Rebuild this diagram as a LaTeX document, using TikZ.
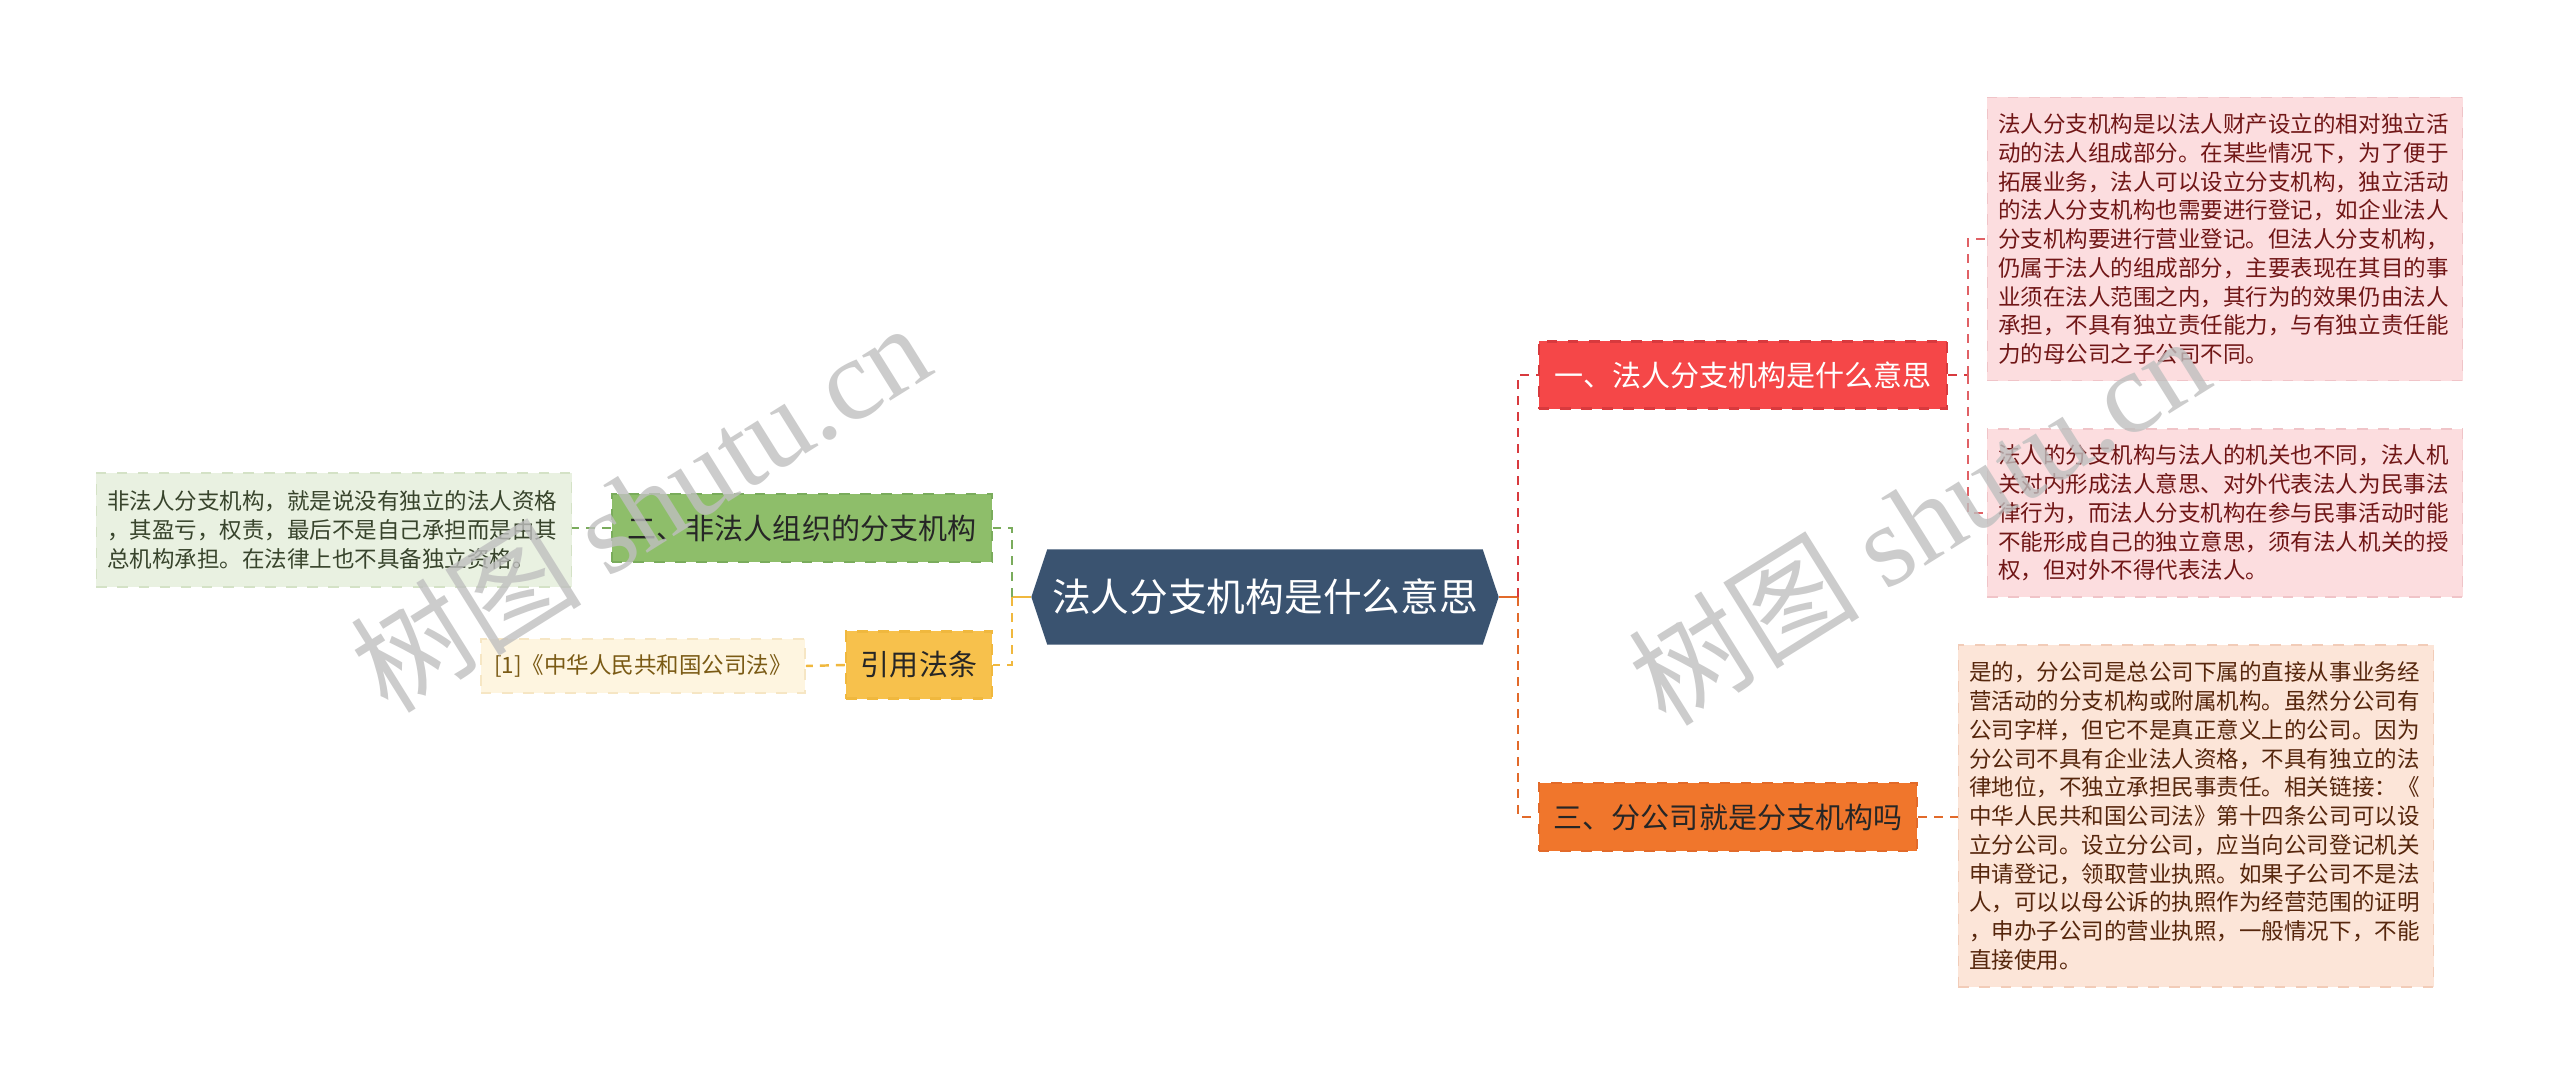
\documentclass[tikz,border=0pt]{standalone}
\usepackage{fontspec}
\setmainfont{Noto Sans CJK SC}
\newfontfamily\wmserif{Liberation Serif}
\usepackage{xcolor}
\usepackage{tikz}
\usetikzlibrary{positioning,shapes.symbols,calc}
\definecolor{rootblue}{RGB}{58,83,112}
\definecolor{redfill}{RGB}{245,71,72}
\definecolor{redline}{RGB}{216,58,62}
\definecolor{orgfill}{RGB}{240,118,44}
\definecolor{orgline}{RGB}{226,106,42}
\definecolor{grnfill}{RGB}{142,190,106}
\definecolor{grnline}{RGB}{122,172,92}
\definecolor{ylwfill}{RGB}{247,193,76}
\definecolor{ylwline}{RGB}{240,184,62}
\definecolor{pinkbg}{RGB}{252,221,223}
\definecolor{pinkln}{RGB}{240,196,200}
\definecolor{pinktxt}{RGB}{112,22,22}
\definecolor{peachbg}{RGB}{252,229,216}
\definecolor{peachln}{RGB}{242,204,184}
\definecolor{peachtxt}{RGB}{86,38,12}
\definecolor{sagebg}{RGB}{233,241,225}
\definecolor{sageln}{RGB}{212,226,198}
\definecolor{sagetxt}{RGB}{56,68,44}
\definecolor{creambg}{RGB}{254,245,224}
\definecolor{creamln}{RGB}{246,230,196}
\definecolor{creamtxt}{RGB}{122,90,20}
\newcommand{\rootfont}{\fontsize{11pt}{13pt}\selectfont}
\newcommand{\topicfont}{\fontsize{8.25pt}{10pt}\selectfont}
\newcommand{\detailfont}{\fontsize{6.4pt}{8.17pt}\selectfont}

\begin{document}
\begin{tikzpicture}[x=0.01cm,y=-0.01cm,
  root/.style={signal,signal to=east and west,signal pointer angle=143,fill=rootblue,
    text=white,font=\rootfont,minimum width=4.67cm,minimum height=0.95cm,inner xsep=0.05cm},
  topic/.style={dashed,line width=0.6pt,minimum height=0.67cm,font=\topicfont},
  detail/.style={dashed,line width=0.4pt,align=left,text width=4.53cm,inner xsep=0.11cm,
    inner ysep=0.12cm,font=\detailfont},
  link/.style={dashed,dash pattern=on 0.09cm off 0.07cm,line width=0.7pt},
  wmark/.style={text=black!25,opacity=0.8,font=\fontsize{33pt}{33pt}\selectfont,rotate=32}]
  \useasboundingbox (0,0) rectangle (2560,1085);

  \node[root] (root) at (1265,597) {法人分支机构是什么意思};

  \node[topic,fill=redfill,draw=redline,text=white,minimum width=4.08cm] (t1) at (1743,375) {一、法人分支机构是什么意思};
  \node[topic,fill=orgfill,draw=orgline,text=black!85,minimum width=3.78cm,minimum height=0.68cm] (t3) at (1728,817) {三、分公司就是分支机构吗};
  \node[topic,fill=grnfill,draw=grnline,text=black!85,minimum width=3.80cm,minimum height=0.68cm] (t2) at (802,528) {二、非法人组织的分支机构};
  \node[topic,fill=ylwfill,draw=ylwline,text=black!85,minimum width=1.46cm] (t4) at (919,665) {引用法条};

  \node[detail,fill=pinkbg,draw=pinkln,text=pinktxt,minimum height=2.83cm] (d1) at (2225,239) {法人分支机构是以法人财产设立的相对独立活\\动的法人组成部分。在某些情况下，为了便于\\拓展业务，法人可以设立分支机构，独立活动\\的法人分支机构也需要进行登记，如企业法人\\分支机构要进行营业登记。但法人分支机构，\\仍属于法人的组成部分，主要表现在其目的事\\业须在法人范围之内，其行为的效果仍由法人\\承担，不具有独立责任能力，与有独立责任能\\力的母公司之子公司不同。};
  \node[detail,fill=pinkbg,draw=pinkln,text=pinktxt,minimum height=1.68cm] (d2) at (2225,513) {法人的分支机构与法人的机关也不同，法人机\\关对内形成法人意思、对外代表法人为民事法\\律行为，而法人分支机构在参与民事活动时能\\不能形成自己的独立意思，须有法人机关的授\\权，但对外不得代表法人。};
  \node[detail,fill=peachbg,draw=peachln,text=peachtxt,minimum height=3.42cm] (d3) at (2196,816) {是的，分公司是总公司下属的直接从事业务经\\营活动的分支机构或附属机构。虽然分公司有\\公司字样，但它不是真正意义上的公司。因为\\分公司不具有企业法人资格，不具有独立的法\\律地位，不独立承担民事责任。相关链接：《\\中华人民共和国公司法》第十四条公司可以设\\立分公司。设立分公司，应当向公司登记机关\\申请登记，领取营业执照。如果子公司不是法\\人，可以以母公诉的执照作为经营范围的证明\\，申办子公司的营业执照，一般情况下，不能\\直接使用。};
  \node[detail,fill=sagebg,draw=sageln,text=sagetxt,minimum height=1.14cm] (d4) at (334,530) {非法人分支机构，就是说没有独立的法人资格\\，其盈亏，权责，最后不是自己承担而是由其\\总机构承担。在法律上也不具备独立资格。};
  \node[dashed,line width=0.4pt,fill=creambg,draw=creamln,text=creamtxt,font=\detailfont,minimum width=3.24cm,minimum height=0.54cm] (c1) at (643,666) {[1]《中华人民共和国公司法》};

  \coordinate (bR) at (1518,597);
  \coordinate (bL) at (1012,597);
  \coordinate (bD) at (1968,375);

  \draw[orgline,line width=0.7pt] (root.east) -- (bR);
  \draw[link,redline] (bR) |- (t1.west);
  \draw[link,orgline] (bR) |- (t3.west);
  \draw[link,redline] (t1.east) -- (bD);
  \draw[link,redline!80] (bD) |- (d1.west);
  \draw[link,redline!80] (bD) |- (d2.west);
  \draw[link,orgline] (t3.east) -- (t3.east -| d3.west);

  \draw[ylwline,line width=0.7pt] (root.west) -- (bL);
  \draw[link,grnline] (bL) |- (t2.east);
  \draw[link,ylwline] (bL) |- (t4.east);
  \draw[link,grnline] (t2.west) -- (t2.west -| d4.east);
  \draw[link,ylwline] (t4.west) -- (c1.east);

  \node[wmark] (wm1) at (640,506) {树图 {\wmserif shutu.cn}};
  \node[wmark] (wm2) at (1918,519) {树图 {\wmserif shutu.cn}};
\end{tikzpicture}
\end{document}
